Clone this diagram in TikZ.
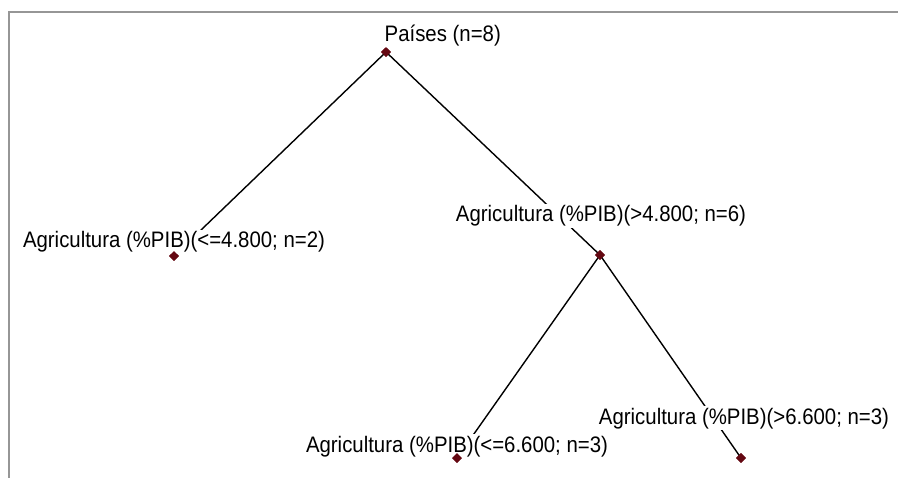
\documentclass[tikz,border=0pt]{standalone}
\usepackage{fontspec}
\usetikzlibrary{shapes.geometric}
\newfontfamily\labfont[FakeStretch=0.91]{Liberation Sans}
\definecolor{dotred}{RGB}{100,8,18}
\definecolor{framegray}{RGB}{150,150,150}
\begin{document}
\begin{tikzpicture}[x=1pt,y=-1pt,
  knot/.style={diamond, fill=dotred, inner sep=0pt, minimum size=10pt},
  lab/.style={font=\labfont\fontsize{22.4}{26}\selectfont, fill=white, inner sep=1.5pt, anchor=base},
  link/.style={line width=1.4pt, black}]
\useasboundingbox (0,0) rectangle (899,478);
\draw[framegray, line width=1.6pt] (9,478) -- (9,12) -- (898,12);
% markers
\node[knot] (r) at (386,52) {};
\node[knot] (a) at (174,256) {};
\node[knot] (b) at (600,255) {};
\node[knot] (c) at (457,458) {};
\node[knot] (d) at (741,458) {};
% connectors
\draw[link] (r.center) -- (a.center);
\draw[link] (r.center) -- (b.center);
\draw[link] (b.center) -- (c.center);
\draw[link] (b.center) -- (d.center);
% labels
\node[lab, anchor=base west] (lr) at (383,42) {Países (n=8)};
\node[lab] (la) at (174,248) {Agricultura (\%PIB)(<=4.800; n=2)};
\node[lab] (lb) at (601,222) {Agricultura (\%PIB)(>4.800; n=6)};
\node[lab] (lc) at (457,452) {Agricultura (\%PIB)(<=6.600; n=3)};
\node[lab] (ld) at (744,424) {Agricultura (\%PIB)(>6.600; n=3)};
% redraw markers on top
\node[knot] at (r) {};
\node[knot] at (a) {};
\node[knot] at (b) {};
\node[knot] at (c) {};
\node[knot] at (d) {};
\end{tikzpicture}
\end{document}
